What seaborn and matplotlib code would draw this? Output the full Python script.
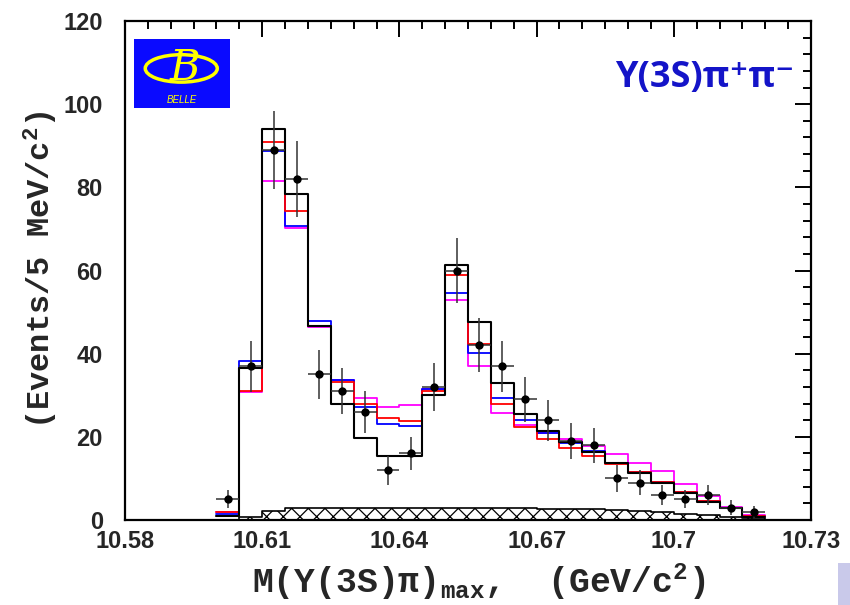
import numpy as np
import matplotlib
matplotlib.use("Agg")
import matplotlib.pyplot as plt
from matplotlib.patches import Rectangle, Ellipse
from matplotlib.ticker import MultipleLocator, FixedLocator, FixedFormatter
import seaborn as sns
import pandas as pd

# ---------------- data ----------------
bin_edges = [10.600, 10.605, 10.610, 10.615, 10.620, 10.625, 10.630, 10.635,
             10.640, 10.645, 10.650, 10.655, 10.660, 10.665, 10.670, 10.675,
             10.680, 10.685, 10.690, 10.695, 10.700, 10.705, 10.710, 10.715,
             10.720]
bin_centers = [10.6025, 10.6075, 10.6125, 10.6175, 10.6225, 10.6275, 10.6325,
               10.6375, 10.6425, 10.6475, 10.6525, 10.6575, 10.6625, 10.6675,
               10.6725, 10.6775, 10.6825, 10.6875, 10.6925, 10.6975, 10.7025,
               10.7075, 10.7125, 10.7175]
data_counts = [5, 37, 89, 82, 35, 31, 26, 12, 16, 32, 60, 42, 37, 29, 24, 19,
               18, 10, 9, 6, 5, 6, 3, 2]
data_errors = [2.2, 6.1, 9.4, 9.1, 5.9, 5.6, 5.1, 3.5, 4.0, 5.7, 7.7, 6.5, 6.1,
               5.4, 4.9, 4.4, 4.2, 3.2, 3.0, 2.4, 2.2, 2.4, 1.7, 1.4]
fit_black = [1.0, 36.5, 94.0, 78.4, 46.6, 27.9, 19.7, 15.4, 15.4, 30.0, 61.3,
             47.6, 33.0, 25.5, 21.4, 18.8, 16.3, 13.7, 11.3, 9.0, 6.6, 4.3,
             2.8, 0.8]
fit_red = [2.0, 31.0, 91.0, 74.4, 46.6, 33.2, 27.9, 24.5, 23.8, 31.0, 58.9,
           42.3, 27.9, 22.4, 19.4, 17.3, 15.4, 13.5, 11.5, 9.2, 6.8, 4.5,
           2.9, 0.9]
fit_blue = [1.5, 38.3, 88.7, 70.7, 47.8, 33.7, 27.2, 23.1, 22.6, 31.5, 54.6,
            40.1, 29.3, 24.0, 21.0, 18.5, 16.6, 13.8, 11.6, 9.2, 6.8, 4.5,
            2.9, 0.9]
fit_magenta = [2.0, 30.8, 81.5, 70.2, 46.5, 33.7, 29.3, 27.2, 27.6, 31.5, 52.9,
               37.0, 25.7, 22.8, 21.0, 19.4, 17.9, 15.9, 13.7, 11.8, 8.7, 5.8,
               3.2, 1.2]
background = [0.0, 0.7, 2.2, 3.0, 3.0, 3.0, 3.0, 3.0, 3.0, 3.0, 3.0, 3.0, 3.0,
              3.0, 2.7, 2.7, 2.6, 2.4, 2.1, 1.9, 1.5, 1.2, 0.8, 0.6]

xtick_values = [10.58, 10.61, 10.64, 10.67, 10.70, 10.73]
xtick_labels = ["10.58", "10.61", "10.64", "10.67", "10.7", "10.73"]
ytick_values = [0, 20, 40, 60, 80, 100, 120]
ytick_labels = ["0", "20", "40", "60", "80", "100", "120"]

title_text = "\u03a5(3S)\u03c0\u207a\u03c0\u207b"
xlabel_text = r"M(Y(3S)$\pi$)$_{\mathrm{max}}$,  (GeV/c$^{2}$)"
ylabel_text = r"(Events/5 MeV/c$^{2}$)"

# ---------------- style ----------------
sns.set_theme(style="white")
plt.rcParams["font.family"] = ["Liberation Sans", "DejaVu Sans"]
plt.rcParams["hatch.linewidth"] = 0.9
plt.rcParams["mathtext.fontset"] = "custom"
plt.rcParams["mathtext.rm"] = "Liberation Mono:bold"
plt.rcParams["mathtext.it"] = "Liberation Mono:bold"
plt.rcParams["mathtext.bf"] = "Liberation Mono:bold"

fig = plt.figure(figsize=(8.5, 6.05), dpi=100)
ax = fig.add_axes([125 / 850, 1 - 520 / 605, 686 / 850, 499 / 605])

df = pd.DataFrame({
    "x": bin_centers,
    "data": data_counts,
    "black": fit_black,
    "red": fit_red,
    "blue": fit_blue,
    "magenta": fit_magenta,
    "bkg": background,
})

# hatched background
sns.histplot(data=df, x="x", weights="bkg", bins=bin_edges, element="step",
             fill=True, ax=ax, facecolor="white", edgecolor="black",
             hatch="xx", linewidth=1.2, alpha=1.0)

for col, colr, lw in [("magenta", "#ff00ff", 1.3), ("blue", "#0000ff", 1.3),
                      ("red", "#ff0000", 1.3), ("black", "black", 1.5)]:
    sns.histplot(data=df, x="x", weights=col, bins=bin_edges, element="step",
                 fill=False, ax=ax, color=colr, linewidth=lw)

ax.errorbar(df["x"], df["data"], yerr=data_errors, xerr=0.0025, fmt="none",
            ecolor="#333333", elinewidth=1.1, capsize=0, zorder=5)
sns.scatterplot(data=df, x="x", y="data", ax=ax, color="black", s=36,
                edgecolor="black", linewidth=0, zorder=6)

ax.set_xlim(10.58, 10.73)
ax.set_ylim(0, 120)
ax.xaxis.set_major_locator(FixedLocator(xtick_values))
ax.xaxis.set_major_formatter(FixedFormatter(xtick_labels))
ax.xaxis.set_minor_locator(MultipleLocator(0.005))
ax.yaxis.set_major_locator(FixedLocator(ytick_values))
ax.yaxis.set_major_formatter(FixedFormatter(ytick_labels))
ax.yaxis.set_minor_locator(MultipleLocator(4))
ax.tick_params(which="both", direction="in", top=True, right=True,
               color="black", width=1.4)
ax.tick_params(which="major", length=11.5)
ax.tick_params(which="minor", length=5.8)
ax.tick_params(axis="x", which="major", pad=7)
ax.tick_params(axis="y", which="major", pad=16)
for lab in ax.get_xticklabels() + ax.get_yticklabels():
    lab.set_fontsize(17)
    lab.set_fontweight("bold")
for sp in ax.spines.values():
    sp.set_linewidth(1.6)
    sp.set_color("black")
ax.set_xlabel("")
ax.set_ylabel("")

# axis labels (Courier-like)
fig.text(479 / 850, 1 - 582 / 605, xlabel_text, ha="center", va="center",
         fontsize=25, family="Liberation Mono", fontweight="bold")
fig.text(41 / 850, 1 - 270 / 605, ylabel_text, ha="center", va="center",
         rotation=90, fontsize=23, family="Liberation Mono",
         fontweight="bold")

# reaction label
ax.text(0.715, 0.886, title_text, transform=ax.transAxes, ha="left",
        va="center", fontsize=26, fontweight="bold", color="#1414c8",
        family=["Open Sans", "DejaVu Sans"])

# Belle logo
ax.add_patch(Rectangle((0.013, 0.826), 0.140, 0.138, transform=ax.transAxes,
                       facecolor="#0a0aff", edgecolor="none", zorder=7))
ax.add_patch(Ellipse((0.082, 0.905), 0.105, 0.055, transform=ax.transAxes,
                     facecolor="none", edgecolor="#ffff00", linewidth=2.5,
                     zorder=8))
ax.text(0.088, 0.905, "B", transform=ax.transAxes, ha="center", va="center",
        fontsize=30, color="#ffff00", style="italic",
        family="DejaVu Serif", zorder=9)
ax.text(0.083, 0.842, "BELLE", transform=ax.transAxes, ha="center",
        va="center", fontsize=7, color="#ffff00", style="italic", zorder=9)

# small lavender corner block
fig.patches.append(Rectangle((838 / 850, 0), 12 / 850, 42 / 605,
                             transform=fig.transFigure, facecolor="#c9c9ea",
                             edgecolor="none"))

fig.savefig("out.png", dpi=100)
